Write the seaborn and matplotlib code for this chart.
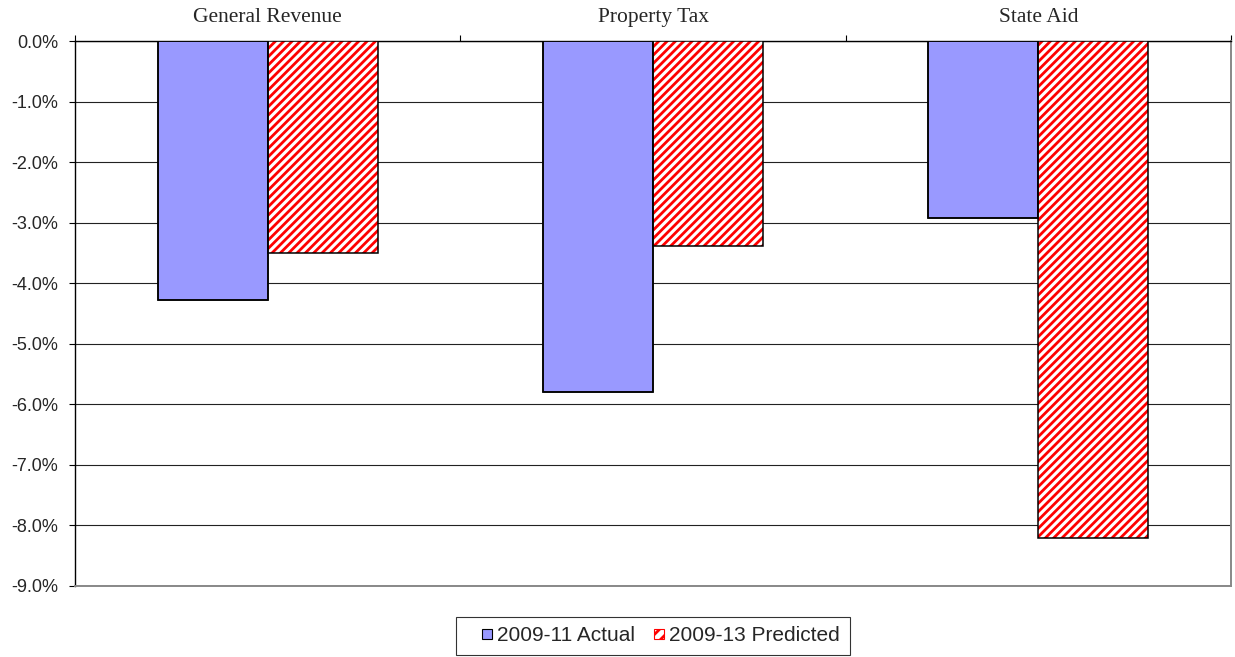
import matplotlib
matplotlib.use("Agg")
import matplotlib.pyplot as plt
from matplotlib.patches import Patch, Rectangle
from matplotlib.legend_handler import HandlerPatch
from matplotlib.ticker import FuncFormatter, FixedLocator
import pandas as pd
import seaborn as sns

# Revenue change by source
categories = ["General Revenue", "Property Tax", "State Aid"]
series_names = ["2009-11 Actual", "2009-13 Predicted"]
actual_2009_11 = [-4.27, -5.79, -2.93]
predicted_2009_13 = [-3.50, -3.39, -8.20]
y_ticks = [0, -1, -2, -3, -4, -5, -6, -7, -8, -9]

df = pd.DataFrame({
    "category": categories * 2,
    "series": [series_names[0]] * 3 + [series_names[1]] * 3,
    "change": actual_2009_11 + predicted_2009_13,
})

sns.set_style("white")
plt.rcParams["font.family"] = ["Liberation Sans", "DejaVu Sans"]
plt.rcParams["hatch.linewidth"] = 2.0

blue = "#9999FF"
red = "#FF0000"

fig = plt.figure(figsize=(12.35, 6.57), dpi=100)
W, H = 1235, 657
ax = fig.add_axes([75 / W, 1 - 586 / H, (1231 - 75) / W, (586 - 41) / H])

sns.barplot(
    data=df, x="category", y="change", hue="series",
    order=categories, hue_order=series_names,
    palette=[blue, "white"], saturation=1, width=0.571, gap=0,
    edgecolor="black", linewidth=1.1, legend=False, ax=ax, zorder=3,
)

# Hatch the predicted bars in red, then redraw a black outline on top
n = len(categories)
for i, p in enumerate(list(ax.patches)):
    if i >= n:
        p.set_facecolor("white")
        p.set_edgecolor(red)
        p.set_hatch("////")
        p.set_linewidth(0)
    outline = Rectangle(p.get_xy(), p.get_width(), p.get_height(),
                        fill=False, edgecolor="black", linewidth=1.1, zorder=4)
    ax.add_patch(outline)

ax.set_ylim(-9, 0)
ax.set_xlim(-0.5, n - 0.5)
ax.yaxis.set_major_locator(FixedLocator(y_ticks))
ax.yaxis.set_major_formatter(FuncFormatter(lambda v, _: f"{v:.1f}%".replace("\u2212", "-")))
ax.grid(axis="y", color="#222222", linewidth=0.8, zorder=0)
ax.set_axisbelow(True)

ax.xaxis.tick_top()
ax.set_xticks(range(n))
ax.set_xticklabels(categories, fontfamily="Liberation Serif", fontsize=15.5)
ax.set_xticks([-0.5, 0.5, 1.5, 2.5], minor=True)
ax.tick_params(axis="x", which="major", length=0, pad=10)
ax.tick_params(axis="x", which="minor", length=4, width=0.8, color="black", direction="out")
ax.tick_params(axis="y", length=4, width=0.8, color="black", direction="out",
               labelsize=13, pad=8, left=True)
ax.set_xlabel("")
ax.set_ylabel("")

for side in ["left", "top"]:
    ax.spines[side].set_color("black")
    ax.spines[side].set_linewidth(1.0)
for side in ["right", "bottom"]:
    ax.spines[side].set_color("#888888")
    ax.spines[side].set_linewidth(1.4)
for s in ax.spines.values():
    s.set_visible(True)


def square_at_right(legend, orig_handle, xdescent, ydescent, width, height, fontsize):
    # small square key, pushed to the right end of the handle box
    side = 0.48 * fontsize
    return Rectangle((width - xdescent - side, -ydescent + (height - side) / 2), side, side)


handles = [
    Patch(facecolor=blue, edgecolor="black", linewidth=0.8),
    Patch(facecolor="white", edgecolor=red, hatch="///", linewidth=0.8),
]
leg = ax.legend(
    handles, series_names, loc="upper center", bbox_to_anchor=(0.5, -0.057),
    borderaxespad=0, ncol=2, frameon=True, fancybox=False, fontsize=15,
    handlelength=1.25, handleheight=0.7, handletextpad=0.24,
    columnspacing=0.17, borderpad=0.45,
    handler_map={Patch: HandlerPatch(patch_func=square_at_right)},
)
leg.get_frame().set_edgecolor("black")
leg.get_frame().set_linewidth(0.8)

fig.savefig("out.png", dpi=100)
